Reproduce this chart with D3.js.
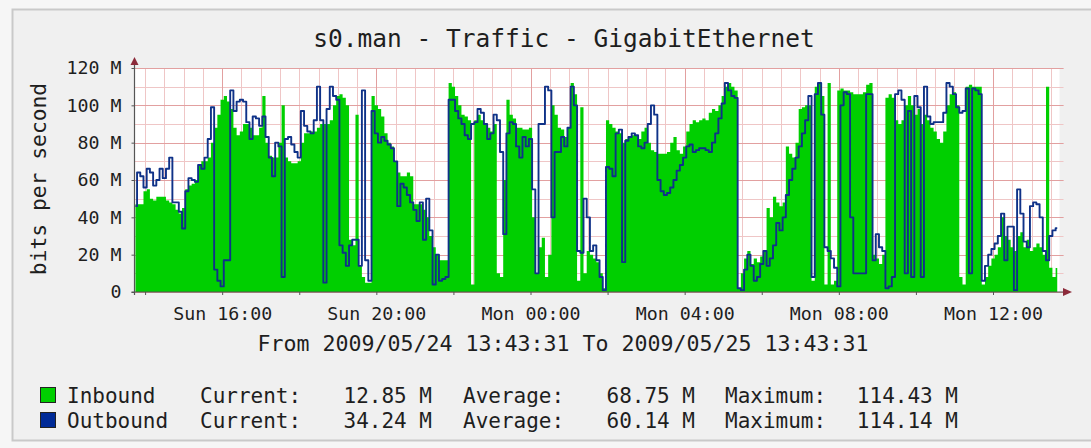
<!DOCTYPE html>
<meta charset="utf-8">
<script src="https://d3js.org/d3.v7.min.js"></script>
<body>
<div id="graph"></div>
<style>
 body { margin: 0; background-color: #f6f6f6; }
 text { font-family: 'DejaVu Sans Mono', monospace; fill: #1e1e1e; }
</style>
<script>

// time window and the 5 minute samples (first one at 13:45)
var startTime = new Date(2009, 4, 24, 13, 43, 31),
    endTime = new Date(2009, 4, 25, 13, 43, 31),
    firstSample = new Date(2009, 4, 24, 13, 45, 0),
    stepMinutes = 5;

// bits per second, in M
var inbound = [
  47,47,47,54,55,50,49,51,51,51, 49,48,47,44,42,45,55,57,58,60,
  68,70,70,72,80,88,95,103,105,102, 98,88,84,86,90,90,88,84,84,88,
  105,80,73,72,72,80,100,72,70,69, 69,70,80,85,85,86,86,88,90,90,
  90,92,100,105,106,104,100,28,25,95, 14,8,5,5,105,100,98,94,85,80,
  78,70,64,62,62,64,62,47,47,47, 44,40,30,24,20,17,17,17,112,110,
  105,100,95,94,92,4,92,95,92,90, 88,86,90,10,8,60,103,95,93,88,
  88,87,87,88,40,10,24,29,8,20, 100,95,88,87,83,88,112,106,6,99,
  10,22,20,18,16,10,2,92,90,88, 86,85,80,82,83,84,84,82,86,88,
  80,76,75,74,74,74,75,80,83,76, 74,78,86,90,92,91,92,93,92,96,
  98,97,100,105,110,112,110,108,2,10, 18,22,15,18,16,19,22,45,40,51,
  48,46,48,78,74,72,80,98,99,100, 100,6,110,112,105,4,112,4,6,108,
  109,108,108,107,106,106,106,107,111,112, 20,18,15,20,104,106,104,92,90,92,
  100,105,100,95,98,90,95,92,88,86, 82,80,86,100,106,107,100,8,4,110,
  111,110,110,110,4,8,14,18,20,24, 40,30,28,24,22,30,32,24,28,22,
  24,26,24,20,110,13,8,12.85
];

var outbound = [
  46,64,62,56,66,64,57,60,66,61, 66,72,48,48,43,34,54,61,60,59,
  68,66,72,82,99,12,6,3,17,17, 108,97,102,103,102,91,82,94,93,89,
  94,83,72,62,80,78,8,82,83,79, 75,72,97,89,86,85,92,110,92,5,
  98,110,105,103,25,21,14,25,28,28, 14,108,17,6,97,85,80,83,81,79,
  77,70,46,58,56,52,48,44,38,48, 28,50,33,4,20,6,7,8,103,103,
  97,93,90,84,82,90,91,98,96,90, 82,85,95,92,75,31,85,91,90,78,
  72,83,78,82,55,10,90,90,110,108, 40,75,75,83,78,88,110,100,22,21,
  50,40,22,25,17,8,1,67,66,62, 85,87,16,81,83,85,84,78,77,80,
  90,100,95,60,54,52,53,56,60,65, 68,72,78,79,75,76,77,77,76,75,
  80,85,93,101,112,108,105,104,2,1, 12,20,14,6,8,15,22,14,18,25,
  37,33,40,52,60,66,72,78,85,92, 105,8,106,112,95,24,22,18,13,3,
  100,107,106,40,10,10,10,10,106,106, 17,31,24,22,2,3,8,106,108,103,
  10,97,8,105,99,8,110,94,90,91, 91,91,96,112,110,106,99,96,97,109,
  10,109,108,106,6,14,20,23,26,30, 42,17,35,35,1,55,42,27,24,46,
  48,47,40,22,17,30,33,34.24
];

var yTicks = [0, 20, 40, 60, 80, 100, 120];

var legendNames = ["Inbound", "Outbound"],
    legendColors = ["#00cf00", "#002a97"],
    currentVals = ["12.85 M", "34.24 M"],
    averageVals = ["68.75 M", "60.14 M"],
    maximumVals = ["114.43 M", "114.14 M"];

var W = 1091, H = 448;

var svg = d3.select("#graph")
  .append("svg")
    .attr("width", W)
    .attr("height", H);

// outer frame
svg.append("rect")
    .attr("x", 12.5).attr("y", 9.5)
    .attr("width", 1090).attr("height", 431)
    .attr("fill", "#f0f0f0")
    .attr("stroke", "#c9c9c9")
    .attr("stroke-width", 2);

var x = d3.scaleTime()
    .domain([startTime, endTime])
    .range([134.5, 1059.5]);

var y = d3.scaleLinear()
    .domain([0, 120])
    .range([292, 68]);

var left = x.range()[0], right = x.range()[1];

// plot canvas
svg.append("rect")
    .attr("x", left).attr("y", y(120))
    .attr("width", right - left).attr("height", y(0) - y(120))
    .attr("fill", "#ffffff");

// grid
var minorX = d3.timeMinute.every(30).range(startTime, endTime);
var majorX = d3.timeHour.every(4).range(startTime, endTime);
var minorY = y.ticks(12);

svg.append("g").selectAll("line")
  .data(minorX)
  .enter().append("line")
    .attr("x1", function(d) { return Math.round(x(d)) + 0.5; })
    .attr("x2", function(d) { return Math.round(x(d)) + 0.5; })
    .attr("y1", y(120)).attr("y2", y(0))
    .attr("stroke", "#efc6c6");

svg.append("g").selectAll("line")
  .data(minorY)
  .enter().append("line")
    .attr("x1", left).attr("x2", right + 4)
    .attr("y1", function(d) { return Math.round(y(d)) + 0.5; })
    .attr("y2", function(d) { return Math.round(y(d)) + 0.5; })
    .attr("stroke", "#efc6c6");

svg.append("g").selectAll("line")
  .data(majorX)
  .enter().append("line")
    .attr("x1", function(d) { return Math.round(x(d)) + 0.5; })
    .attr("x2", function(d) { return Math.round(x(d)) + 0.5; })
    .attr("y1", y(120)).attr("y2", y(0))
    .attr("stroke", "#e2a0a0");

svg.append("g").selectAll("line")
  .data(yTicks)
  .enter().append("line")
    .attr("x1", left).attr("x2", right + 4)
    .attr("y1", function(d) { return Math.round(y(d)) + 0.5; })
    .attr("y2", function(d) { return Math.round(y(d)) + 0.5; })
    .attr("stroke", "#e2a0a0");

// data
var sampleTime = function(i) { return d3.timeMinute.offset(firstSample, i * stepMinutes); };

var area = d3.area()
    .curve(d3.curveStep)
    .x(function(d, i) { return x(sampleTime(i)); })
    .y0(y(0))
    .y1(function(d) { return y(d); });

var line = d3.line()
    .curve(d3.curveStep)
    .x(function(d, i) { return x(sampleTime(i)); })
    .y(function(d) { return y(d); });

svg.append("path")
    .datum(inbound)
    .attr("d", area)
    .attr("fill", "#00cf00");

svg.append("path")
    .datum(outbound)
    .attr("d", line)
    .attr("fill", "none")
    .attr("stroke", "#0f3288")
    .attr("stroke-width", 1.9)
    .attr("stroke-linejoin", "round");

// axes
var xAxis = d3.axisBottom(x)
    .tickValues(d3.timeHour.every(2).range(startTime, endTime))
    .tickSize(3)
    .tickPadding(12)
    .tickFormat(function(d) { return d.getHours() % 4 == 0 ? d3.timeFormat("%a %H:%M")(d) : ""; });

var gx = svg.append("g")
    .attr("transform", "translate(0," + y(0) + ")")
    .call(xAxis);
gx.select(".domain").remove();
gx.selectAll("line").attr("stroke", "#555");
gx.selectAll("text").style("font-size", "18.3px").attr("fill", "#1e1e1e");

var yAxis = d3.axisLeft(y)
    .tickValues(yTicks)
    .tickSize(3)
    .tickPadding(10)
    .tickFormat(function(d) { return d ? d + " M" : "0"; });

var gy = svg.append("g")
    .attr("transform", "translate(" + left + ",0)")
    .call(yAxis);
gy.select(".domain").remove();
gy.selectAll("line").attr("stroke", "#555");
gy.selectAll("text").style("font-size", "18.3px").attr("fill", "#1e1e1e");

// axis lines with arrows
svg.append("line")
    .attr("x1", left).attr("x2", left)
    .attr("y1", y(0) + 3).attr("y2", 62)
    .attr("stroke", "#555").attr("stroke-width", 1.2);
svg.append("line")
    .attr("x1", left - 3).attr("x2", 1066)
    .attr("y1", y(0)).attr("y2", y(0))
    .attr("stroke", "#555").attr("stroke-width", 1.2);
svg.append("path")
    .attr("d", "M" + left + ",57L" + (left - 4) + ",65L" + (left + 4) + ",65Z")
    .attr("fill", "#8c2a3a");
svg.append("path")
    .attr("d", "M1072," + y(0) + "L1063," + (y(0) - 4) + "L1063," + (y(0) + 4) + "Z")
    .attr("fill", "#8c2a3a");

// titles
svg.append("text")
    .attr("x", 564).attr("y", 47)
    .attr("text-anchor", "middle")
    .style("font-size", "24.5px")
    .text("s0.man - Traffic - GigabitEthernet");

svg.append("text")
    .attr("transform", "translate(45.5,179) rotate(-90)")
    .attr("text-anchor", "middle")
    .style("font-size", "21.3px")
    .text("bits per second");

svg.append("text")
    .attr("x", 563).attr("y", 351)
    .attr("text-anchor", "middle")
    .style("font-size", "21.6px")
    .text("From 2009/05/24 13:43:31 To 2009/05/25 13:43:31");

// legend
var rows = svg.append("g").selectAll("g")
  .data(legendNames)
  .enter().append("g")
    .attr("transform", function(d, i) { return "translate(0," + (403 + i * 25) + ")"; });

rows.append("rect")
    .attr("x", 40.5).attr("y", -15.5)
    .attr("width", 15).attr("height", 15)
    .attr("fill", function(d, i) { return legendColors[i]; })
    .attr("stroke", "#222");

var legendText = function(xpos, anchor, getter) {
  rows.append("text")
      .attr("x", xpos)
      .attr("text-anchor", anchor)
      .style("font-size", "21px")
      .text(getter);
};
legendText(67, "start", function(d) { return d; });
legendText(200, "start", function() { return "Current:"; });
legendText(432, "end", function(d, i) { return currentVals[i]; });
legendText(463, "start", function() { return "Average:"; });
legendText(695, "end", function(d, i) { return averageVals[i]; });
legendText(725, "start", function() { return "Maximum:"; });
legendText(958, "end", function(d, i) { return maximumVals[i]; });

</script>
</body>
